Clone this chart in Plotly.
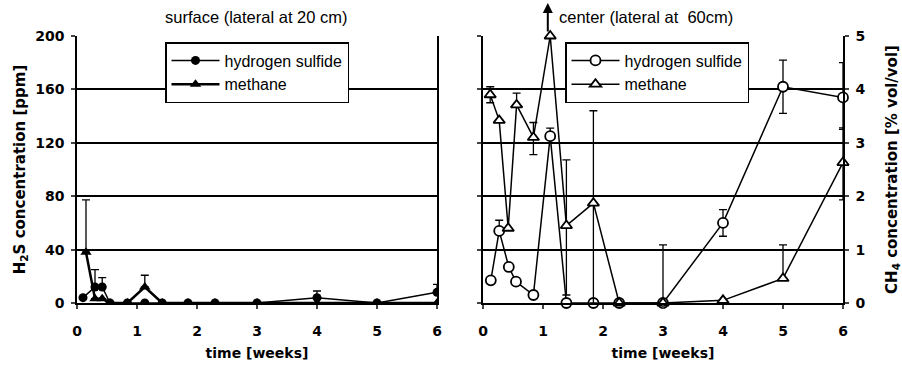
import plotly.graph_objects as go

# ---- data ----
# left panel: surface (lateral at 20 cm)
surf_h2s_t = [0.1, 0.3, 0.42, 0.55, 0.84, 1.13, 1.42, 1.85, 2.3, 3, 4, 5, 6]
surf_h2s = [4, 12, 12, 0, 0, 0, 0, 0, 0, 0, 4, 0, 8]          # ppm
surf_h2s_err = [0, 13, 7, 0, 0, 0, 0, 0, 0, 0, 5, 0, 6]
surf_ch4_t = [0.15, 0.3, 0.42, 0.55, 0.84, 1.13, 1.42, 1.85, 2.3, 3, 4, 5, 6]
surf_ch4 = [0.95, 0.08, 0.08, 0, 0, 0.3, 0, 0, 0, 0, 0, 0, 0]  # % vol/vol
surf_ch4_err = [0.98, 0, 0, 0, 0, 0.22, 0, 0, 0, 0, 0, 0, 0]

# right panel: center (lateral at 60 cm)
cent_h2s_t = [0.13, 0.27, 0.43, 0.55, 0.84, 1.12, 1.39, 1.84, 2.27, 3, 4, 5, 6]
cent_h2s = [17, 54, 27, 16, 6, 125, 0, 0, 0, 0, 60, 162, 154]  # ppm
cent_h2s_up = [0, 8, 0, 0, 0, 6, 0, 0, 0, 0, 10, 20, 26]
cent_h2s_dn = [0, 0, 0, 0, 0, 0, 0, 0, 0, 0, 10, 20, 24]
cent_ch4_t = [0.12, 0.27, 0.42, 0.56, 0.84, 1.12, 1.39, 1.84, 2.27, 3, 4, 5, 6]
cent_ch4 = [3.9, 3.42, 1.4, 3.71, 3.1, 5.0, 1.45, 1.87, 0, 0, 0.05, 0.46, 2.63]  # % vol/vol
cent_ch4_up = [0.15, 0, 0, 0.22, 0.28, 0, 1.23, 1.73, 0, 1.09, 0, 0.63, 0.65]
cent_ch4_dn = [0.15, 0, 0, 0, 0.32, 0, 1.3, 1.87, 0, 0, 0, 0, 0.7]

x_ticks = [0, 1, 2, 3, 4, 5, 6]
ppm_ticks = [0, 40, 80, 120, 160, 200]
pct_ticks = [0, 1, 2, 3, 4, 5]

FONT = "Liberation Sans, Arial, sans-serif"
BFONT = "DejaVu Sans, sans-serif"
BOT, TOP = 1 - 303 / 370, 1 - 36 / 370
XL = [77 / 902, 437 / 902]
XR = [483 / 902, 843 / 902]

fig = go.Figure()


def err(up, dn=None):
    return dict(type="data", array=up, arrayminus=dn if dn is not None else [0] * len(up),
                symmetric=False, visible=True, color="black", thickness=1.3, width=4)


fig.add_trace(go.Scatter(x=surf_h2s_t, y=surf_h2s, name="hydrogen sulfide", mode="lines+markers",
                         line=dict(color="black", width=1.5),
                         marker=dict(symbol="circle", size=9, color="black"),
                         error_y=err(surf_h2s_err), xaxis="x", yaxis="y", legend="legend"))
fig.add_trace(go.Scatter(x=surf_ch4_t, y=surf_ch4, name="methane", mode="lines+markers",
                         line=dict(color="black", width=2.5),
                         marker=dict(symbol="triangle-up", size=10, color="black"),
                         error_y=err(surf_ch4_err), xaxis="x", yaxis="y4", legend="legend"))

fig.add_trace(go.Scatter(x=cent_h2s_t, y=cent_h2s, name="hydrogen sulfide", mode="lines+markers",
                         line=dict(color="black", width=1.5),
                         marker=dict(symbol="circle", size=10, color="white", line=dict(width=1.8, color="black")),
                         error_y=err(cent_h2s_up, cent_h2s_dn), xaxis="x2", yaxis="y2", legend="legend2",
                         cliponaxis=False))
fig.add_trace(go.Scatter(x=cent_ch4_t, y=cent_ch4, name="methane", mode="lines+markers",
                         line=dict(color="black", width=1.5),
                         marker=dict(symbol="triangle-up", size=10, color="white", line=dict(width=1.8, color="black")),
                         error_y=err(cent_ch4_up, cent_ch4_dn), xaxis="x2", yaxis="y3", legend="legend2",
                         cliponaxis=False))

tickfont = dict(family=BFONT, size=14, color="black", weight="bold")
titlefont = dict(family=BFONT, size=14, color="black", weight="bold")
ytitlefont = dict(family=BFONT, size=15, color="black", weight="bold")

xcommon = dict(range=[0, 6], tickvals=x_ticks, ticks="outside", ticklen=4, tickwidth=1.5,
               showline=True, linecolor="black", linewidth=1.5, showgrid=False, zeroline=False,
               automargin=False, ticklabelstandoff=10,
               tickfont=tickfont, title=dict(text="time [weeks]", font=titlefont, standoff=11))

legcommon = dict(xanchor="left", yanchor="top", bgcolor="white", bordercolor="black", borderwidth=1.5,
                 font=dict(family=FONT, size=16, color="black"), tracegroupgap=0,
                 itemwidth=48, traceorder="normal")

fig.update_layout(
    width=902, height=370, paper_bgcolor="white", plot_bgcolor="white",
    margin=dict(l=0, r=0, t=0, b=0), showlegend=True,
    xaxis=dict(domain=XL, anchor="y", **xcommon),
    xaxis2=dict(domain=XR, anchor="y2", **xcommon),
    yaxis=dict(domain=[BOT, TOP], anchor="x", range=[0, 200], tickvals=ppm_ticks,
               ticks="outside", ticklen=4, tickwidth=1.5, showline=True, linecolor="black", linewidth=1.5,
               showgrid=True, gridcolor="black", gridwidth=1.5, zeroline=False, tickfont=tickfont,
               automargin=False, ticklabelstandoff=4,
               title=dict(text="H<sub>2</sub>S concentration [ppm]", font=ytitlefont, standoff=6)),
    yaxis4=dict(overlaying="y", side="right", anchor="x", range=[0, 5], showticklabels=False,
                ticks="", showline=True, linecolor="black", linewidth=1.5, showgrid=False, zeroline=False,
                automargin=False),
    yaxis2=dict(domain=[BOT, TOP], anchor="x2", range=[0, 200], tickvals=ppm_ticks, showticklabels=False,
                ticks="outside", ticklen=4, tickwidth=1.5, showline=True, linecolor="black", linewidth=1.5,
                showgrid=True, gridcolor="black", gridwidth=1.5, zeroline=False, automargin=False),
    yaxis3=dict(overlaying="y2", side="right", anchor="x2", range=[0, 5], tickvals=pct_ticks,
                ticks="outside", ticklen=4, tickwidth=1.5, showline=True, linecolor="black", linewidth=1.5,
                showgrid=False, zeroline=False, tickfont=tickfont, automargin=False, ticklabelstandoff=4,
                title=dict(text="CH<sub>4</sub> concentration [% vol/vol]", font=ytitlefont, standoff=22)),
    legend=dict(x=165 / 902, y=1 - 42 / 370, **legcommon),
    legend2=dict(x=565 / 902, y=1 - 42 / 370, **legcommon),
)

fig.add_annotation(text="surface (lateral at 20 cm)", xref="paper", yref="paper",
                   x=256 / 902, y=1 - 17 / 370, showarrow=False,
                   font=dict(family=FONT, size=16.5, color="black"), xanchor="center", yanchor="middle")
fig.add_annotation(text="center (lateral at&nbsp; 60cm)", xref="paper", yref="paper",
                   x=557 / 902, y=1 - 17 / 370, showarrow=False,
                   font=dict(family=FONT, size=16.5, color="black"), xanchor="left", yanchor="middle")
# off-scale arrow above the methane peak
fig.add_annotation(x=cent_ch4_t[5] - 0.04, y=1 - 3 / 370, xref="x2", yref="paper", text="",
                   showarrow=True, arrowhead=2, arrowsize=1, arrowwidth=2, arrowcolor="black",
                   ax=0, ay=30)

fig.write_html("out.html")
